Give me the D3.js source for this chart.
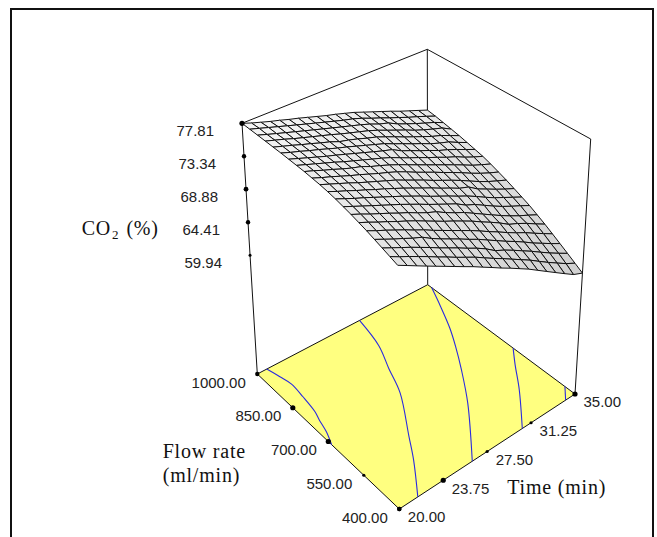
<!DOCTYPE html>
<html>
<head>
<meta charset="utf-8">
<script src="https://cdn.jsdelivr.net/npm/d3@7"></script>
<style>
  html, body { margin: 0; padding: 0; background: #fff; }
  svg { display: block; }
  .num { font-family: "Liberation Sans", Arial, sans-serif; font-size: 15px; fill: #222; }
  .title { font-family: "Liberation Serif", "Times New Roman", serif; font-size: 20px; letter-spacing: 0.8px; fill: #111; }
</style>
</head>
<body>
<script>
// tick labels
const timeTicks = [20, 23.75, 27.5, 31.25, 35];
const flowTicks = [1000, 850, 700, 550, 400];
const co2Ticks = [77.81, 73.34, 68.88, 64.41, 59.94];

// surface grid
const timeGrid = [20, 20.75, 21.5, 22.25, 23, 23.75, 24.5, 25.25, 26, 26.75, 27.5, 28.25, 29, 29.75, 30.5, 31.25, 32, 32.75, 33.5, 34.25, 35];
const flowGrid = [400, 430, 460, 490, 520, 550, 580, 610, 640, 670, 700, 730, 760, 790, 820, 850, 880, 910, 940, 970, 1000];

// one row per flow rate, one column per time
const co2 = [
  [74.50, 73.83, 73.15, 72.47, 71.80, 71.13, 70.45, 69.77, 69.10, 68.37, 67.65, 66.90, 66.20, 65.45, 64.70, 63.85, 63.00, 62.15, 61.30, 60.47, 59.94],
  [74.85, 74.20, 73.60, 72.95, 72.30, 71.60, 70.95, 70.25, 69.60, 68.95, 68.20, 67.45, 66.75, 66.00, 65.25, 64.50, 63.65, 62.82, 62.03, 61.25, 60.60],
  [75.20, 74.60, 74.00, 73.40, 72.75, 72.10, 71.40, 70.75, 70.10, 69.40, 68.75, 68.00, 67.10, 66.50, 65.80, 65.05, 64.30, 63.49, 62.70, 61.96, 61.25],
  [75.55, 74.95, 74.35, 73.80, 73.20, 72.70, 71.90, 71.20, 70.55, 69.90, 69.20, 68.55, 67.80, 67.05, 66.30, 65.60, 64.85, 64.04, 63.32, 62.59, 61.90],
  [75.90, 75.30, 74.75, 74.15, 73.55, 72.90, 72.30, 71.60, 70.95, 70.30, 69.65, 69.00, 68.30, 67.55, 66.85, 66.10, 65.40, 64.75, 63.99, 63.27, 62.55],
  [76.20, 75.65, 75.05, 74.50, 73.90, 73.35, 72.75, 72.10, 71.45, 70.80, 70.20, 69.55, 68.90, 68.15, 67.45, 66.70, 65.85, 65.30, 64.65, 63.90, 63.20],
  [76.50, 75.95, 75.35, 74.80, 74.25, 73.65, 73.10, 72.45, 71.85, 71.35, 70.60, 69.95, 69.35, 68.60, 67.85, 67.10, 66.35, 65.65, 65.00, 64.42, 63.80],
  [76.75, 76.20, 75.65, 75.10, 74.55, 74.00, 73.45, 72.85, 72.25, 71.60, 71.00, 70.40, 69.80, 69.00, 68.45, 67.70, 66.95, 66.25, 65.62, 65.03, 64.40],
  [77.00, 76.45, 75.90, 75.40, 74.85, 74.30, 73.75, 73.20, 72.60, 72.00, 71.35, 70.75, 70.15, 69.50, 68.90, 68.20, 67.45, 66.75, 66.14, 65.52, 64.90],
  [77.20, 76.65, 76.15, 75.60, 75.10, 74.55, 74.05, 73.50, 72.95, 72.35, 71.75, 71.15, 70.50, 69.90, 69.25, 68.80, 67.90, 67.25, 66.59, 65.97, 65.40],
  [77.35, 76.85, 76.35, 75.85, 75.30, 74.80, 74.30, 73.80, 73.30, 72.70, 72.10, 71.50, 70.85, 70.25, 69.65, 69.00, 68.30, 67.60, 66.97, 66.43, 65.90],
  [77.45, 76.95, 76.50, 76.00, 75.50, 75.05, 74.55, 74.05, 73.60, 73.10, 72.50, 71.85, 71.25, 70.65, 70.00, 69.40, 68.75, 68.06, 67.43, 66.86, 66.35],
  [77.55, 77.10, 76.60, 76.15, 75.65, 75.20, 74.82, 74.25, 73.80, 73.30, 72.75, 72.15, 71.55, 70.95, 70.35, 69.75, 69.15, 68.52, 67.86, 67.32, 66.80],
  [77.60, 77.15, 76.70, 76.25, 75.80, 75.30, 74.85, 74.40, 73.95, 73.50, 73.00, 72.40, 71.80, 71.25, 70.65, 70.10, 69.50, 68.97, 68.31, 67.72, 67.20],
  [77.65, 77.20, 76.75, 76.30, 75.85, 75.45, 75.00, 74.55, 74.10, 73.65, 73.20, 72.80, 72.05, 71.50, 70.90, 70.35, 69.75, 69.27, 68.70, 68.09, 67.50],
  [77.70, 77.25, 76.85, 76.40, 76.00, 75.55, 75.10, 74.70, 74.25, 73.80, 73.35, 72.90, 72.30, 71.75, 71.15, 70.60, 70.00, 69.51, 69.08, 68.41, 67.80],
  [77.72, 77.30, 76.90, 76.45, 76.05, 75.60, 75.20, 74.68, 74.35, 73.95, 73.50, 73.10, 72.55, 72.00, 71.40, 70.85, 70.30, 69.75, 69.30, 68.70, 68.10],
  [77.75, 77.35, 76.95, 76.50, 76.10, 75.70, 75.30, 74.90, 74.45, 74.05, 73.65, 73.25, 72.76, 72.20, 71.65, 71.10, 70.50, 69.99, 69.52, 69.09, 68.35],
  [77.77, 77.35, 76.95, 76.55, 76.15, 75.75, 75.35, 74.95, 74.55, 74.15, 73.75, 73.35, 72.90, 72.35, 71.95, 71.25, 70.70, 70.18, 69.68, 69.20, 68.60],
  [77.79, 77.40, 77.00, 76.60, 76.20, 75.80, 75.40, 75.00, 74.60, 74.20, 73.80, 73.45, 73.00, 72.45, 71.95, 71.40, 70.90, 70.37, 69.90, 69.39, 68.85],
  [77.81, 77.35, 76.95, 76.55, 76.20, 75.80, 75.45, 75.05, 74.65, 74.25, 73.90, 73.50, 73.10, 72.60, 72.10, 71.60, 71.10, 70.55, 70.05, 69.55, 69.04]
];

// contour lines on the floor, [time, flow]
const contour1 = [[20, 686], [20.45, 730], [20.75, 775], [20.98, 803], [21.2, 865], [21.32, 919], [21.11, 958], [20.83, 1000]];
const contour2 = [[21.58, 400], [23.4, 507], [24.5, 580], [26.6, 718], [27.5, 808], [28.4, 892], [29, 1000]];
const contour3 = [[26.23, 400], [29.38, 571], [31.1, 679], [32.3, 760], [33.2, 826], [34.18, 910], [35, 984]];
const contour4 = [[30.5, 400], [32.68, 517], [34.03, 598], [35, 652]];
const contour5 = [[34.2, 400], [35, 441]];

const width = 657, height = 537;

const svg = d3.select("body").append("svg")
  .attr("width", width)
  .attr("height", height)
  .attr("viewBox", `0 0 ${width} ${height}`);

// box corners on the page
const floorBox = {fl: [399.3, 509], fr: [575, 394], bk: [427.7, 284.7], lf: [257.3, 374]};
const topBox = {fl: [397.5, 239], fr: [590.7, 139], bk: [427.3, 49.3], lf: [242, 123.3]};

const u = d3.scaleLinear().domain([20, 35]).range([0, 1]);
const v = d3.scaleLinear().domain([400, 1000]).range([0, 1]);
const w = d3.scaleLinear().domain([59.94, 77.81]).range([0.474, 1]);

function bilinear(box, a, b, k) {
  return (1 - a) * (1 - b) * box.fl[k] + a * (1 - b) * box.fr[k] + a * b * box.bk[k] + (1 - a) * b * box.lf[k];
}

// time, flow, fraction of box height -> page position
function place(time, flow, up) {
  const a = u(time), b = v(flow);
  return [0, 1].map(k => bilinear(floorBox, a, b, k) * (1 - up) + bilinear(topBox, a, b, k) * up);
}

const lineOf = d3.line();
const curveOf = d3.line().curve(d3.curveCatmullRom);

appendFrame();
appendBox();
appendFloor();
appendSurface();
appendTicks();
appendTitles();

function appendFrame() {
  svg.append("path")
    .attr("d", `M11,${height}V9H653V${height}`)
    .attr("fill", "none")
    .attr("stroke", "#111")
    .attr("stroke-width", 2);
}

function appendBox() {
  const edges = [
    [[20, 1000, 0], [20, 1000, 1]],
    [[35, 1000, 0], [35, 1000, 1]],
    [[35, 400, 0], [35, 400, 1]],
    [[20, 1000, 1], [35, 1000, 1], [35, 400, 1]]
  ];
  svg.append("g").selectAll("path")
    .data(edges)
    .enter().append("path")
      .attr("d", d => lineOf(d.map(p => place(p[0], p[1], p[2]))))
      .attr("fill", "none")
      .attr("stroke", "#111")
      .attr("stroke-width", 1);
}

function appendFloor() {
  const outline = [[20, 400], [35, 400], [35, 1000], [20, 1000]];
  svg.append("path")
    .attr("d", lineOf(outline.map(p => place(p[0], p[1], 0))) + "Z")
    .attr("fill", "#ffff80")
    .attr("stroke", "#111")
    .attr("stroke-width", 1);

  svg.append("g").selectAll("path")
    .data([contour1, contour2, contour3, contour4, contour5])
    .enter().append("path")
      .attr("d", d => curveOf(d.map(p => place(p[0], p[1], 0))))
      .attr("fill", "none")
      .attr("stroke", "#2a2ae0")
      .attr("stroke-width", 1.1);
}

function appendSurface() {
  // shade goes with the corner of the surface
  const shadeLow = d3.scaleLinear().domain([20, 35]).range([226, 208]);
  const shadeHigh = d3.scaleLinear().domain([20, 35]).range([245, 234]);
  const shade = d3.scaleLinear().domain([400, 1000]).range([0, 1]);

  const cells = [];
  flowGrid.slice(0, -1).forEach((flow, j) => {
    timeGrid.slice(0, -1).forEach((time, i) => {
      cells.push({i, j, depth: i + j});
    });
  });
  // far corner first
  cells.sort((a, b) => b.depth - a.depth);

  const pt = (i, j) => place(timeGrid[i], flowGrid[j], w(co2[j][i]));

  svg.append("g").selectAll("path")
    .data(cells)
    .enter().append("path")
      .attr("d", d => lineOf([pt(d.i, d.j), pt(d.i + 1, d.j), pt(d.i + 1, d.j + 1), pt(d.i, d.j + 1)]) + "Z")
      .attr("fill", d => {
        const s = shade(flowGrid[d.j]);
        const g = Math.round(shadeLow(timeGrid[d.i]) * (1 - s) + shadeHigh(timeGrid[d.i]) * s);
        return d3.rgb(g, g, g);
      })
      .attr("stroke", "#111")
      .attr("stroke-width", 1)
      .attr("stroke-linejoin", "round");
}

function appendTicks() {
  const dotSize = {co2: [2.6, 2.2, 2.4, 2.2, 1.5], flow: [2.2, 2.6, 2.6, 1.6, 2.2], time: [2.2, 2.6, 1.6, 1.6, 2.6]};

  const axes = [
    {ticks: co2Ticks, sizes: dotSize.co2, at: d => place(20, 1000, w(d)), dx: -28, dy: 13, anchor: "end", fmt: d3.format(".2f")},
    {ticks: flowTicks, sizes: dotSize.flow, at: d => place(20, d, 0), dx: -11.5, dy: 13.5, anchor: "end", fmt: d3.format(".2f")},
    {ticks: timeTicks, sizes: dotSize.time, at: d => place(d, 400, 0), dx: 8.5, dy: 13.3, anchor: "start", fmt: d3.format(".2f")}
  ];

  axes.forEach(axis => {
    const g = svg.append("g");
    g.selectAll("circle")
      .data(axis.ticks)
      .enter().append("circle")
        .attr("cx", d => axis.at(d)[0])
        .attr("cy", d => axis.at(d)[1])
        .attr("r", (d, i) => axis.sizes[i])
        .attr("fill", "#000");
    g.selectAll("text")
      .data(axis.ticks)
      .enter().append("text")
        .attr("class", "num")
        .attr("x", d => axis.at(d)[0] + axis.dx)
        .attr("y", d => axis.at(d)[1] + axis.dy)
        .attr("text-anchor", axis.anchor)
        .text(axis.fmt);
  });
}

function appendTitles() {
  const co2Label = svg.append("text").attr("class", "title").attr("x", 81.7).attr("y", 235);
  co2Label.append("tspan").text("CO");
  co2Label.append("tspan").attr("dy", 4).attr("dx", 1).style("font-size", "13px").text("2");
  co2Label.append("tspan").attr("dy", -4).attr("dx", 7).text("(%)");

  svg.append("text").attr("class", "title").attr("x", 162.7).attr("y", 457.7).text("Flow rate");
  svg.append("text").attr("class", "title").attr("x", 162.7).attr("y", 481.7).text("(ml/min)");
  svg.append("text").attr("class", "title").attr("x", 507.3).attr("y", 494.3).text("Time (min)");
}
</script>
</body>
</html>
